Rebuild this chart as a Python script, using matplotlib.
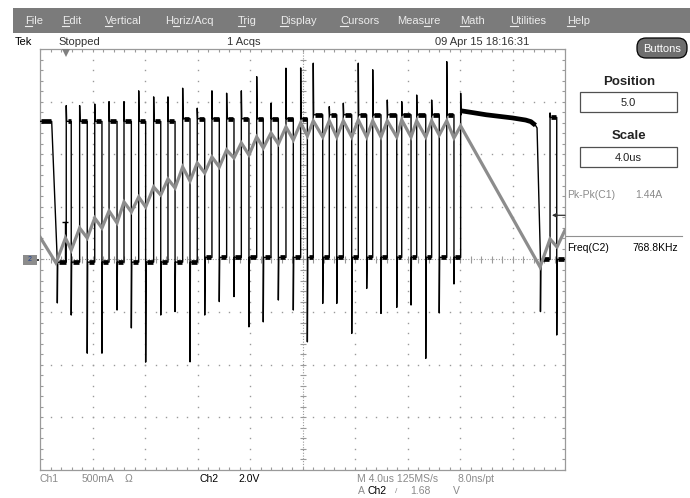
"""Tek scope capture: switch node (Ch2, black) and inductor current (Ch1, grey)."""

import matplotlib

matplotlib.use("Agg")
import matplotlib.pyplot as plt  # noqa: E402
import numpy as np  # noqa: E402
from matplotlib.font_manager import FontProperties  # noqa: E402
from matplotlib.patches import FancyBboxPatch, Rectangle  # noqa: E402

plt.rcParams["font.family"] = ["Liberation Sans", "DejaVu Sans"]

# --- scope settings ---
T_DIV = 4.0        # us/div
CH1_DIV = 0.5      # A/div  (grey)
CH2_DIV = 2.0      # V/div  (black)
TRIG_LEVEL = 1.68  # V on Ch2
TRIG_T = 2.0       # us from left edge

# --- Ch2 switch node (V, us) ---
ch2_start_v = 5.25
slow_fall_start = [0.89, 37.87]          # the two slow edges (fall index 0 and 28)
rise_t = [2.00, 3.02, 4.17, 5.26, 6.40, 7.52, 8.66, 9.75, 10.87, 11.98, 13.10, 14.22,
          15.34, 16.51, 17.60, 18.74, 19.86, 20.82, 22.04, 23.11, 24.25, 25.35, 26.46,
          27.56, 28.70, 29.84, 30.99, 32.05, 38.86]
rise_peak = [5.85, 5.85, 5.91, 6.00, 6.00, 6.41, 6.18, 6.18, 6.51, 5.75, 6.41, 6.32,
             6.41, 6.95, 5.94, 7.27, 7.28, 7.46, 5.81, 5.94, 7.46, 7.21, 6.06,
             6.00, 6.25, 6.06, 7.52, 6.32, 5.57]
high_v = [5.25, 5.25, 5.25, 5.25, 5.25, 5.25, 5.25, 5.25, 5.35, 5.35, 5.35, 5.35,
          5.35, 5.35, 5.35, 5.35, 5.35, 5.50, 5.50, 5.50, 5.50, 5.50, 5.50,
          5.50, 5.50, 5.50, 5.50, 5.50, 5.40]
fall_t = [1.32, 2.38, 3.60, 4.72, 5.87, 6.96, 8.05, 9.20, 10.29, 11.43, 12.55, 13.66,
          14.78, 15.92, 17.01, 18.16, 19.30, 20.37, 21.54, 22.61, 23.75, 24.89, 25.98,
          27.18, 28.27, 29.39, 30.42, 31.54, 38.13, 39.37]
fall_dip = [-1.65, -2.11, -3.56, -3.56, -1.92, -2.60, -3.90, -2.11, -1.98, -3.89, -2.11,
            -1.60, -1.41, -2.56, -2.37, -1.54, -1.92, -3.13, -1.67, -1.67, -2.81, -1.10,
            -2.05, -1.82, -1.73, -3.76, -2.03, -0.93, -1.98, -2.87]
low_v = [-0.10, -0.10, -0.10, -0.10, -0.10, -0.10, -0.10, -0.10, -0.10, -0.10, 0.08,
         0.08, 0.08, 0.08, 0.08, 0.08, 0.08, 0.08, 0.08, 0.08, 0.08, 0.08, 0.08, 0.08,
         0.08, 0.08, 0.08, 0.08, 0.00, 0.00]
plateau_t = [32.10, 33.0, 34.0, 35.0, 36.0, 37.0, 37.4, 37.75]
plateau_v = [5.65, 5.58, 5.50, 5.44, 5.38, 5.30, 5.24, 5.10]
glitch_t = [1.90]
glitch_v = [1.43]

# --- Ch1 inductor current (A, us) ---
i_t = [0.00, 1.22, 1.94, 2.38, 3.02, 3.60, 4.17, 4.72, 5.26, 5.87, 6.40, 6.96, 7.52,
       8.05, 8.66, 9.20, 9.75, 10.29, 10.87, 11.43, 11.98, 12.55, 13.10, 13.66, 14.22,
       14.78, 15.34, 15.92, 16.51, 17.01, 17.60, 18.16, 18.74, 19.30, 19.86, 20.37,
       20.82, 21.54, 22.04, 22.61, 23.11, 23.75, 24.25, 24.89, 25.35, 25.98, 26.46,
       27.18, 27.56, 28.27, 28.70, 29.39, 29.84, 30.42, 30.99, 31.54, 32.05, 38.10,
       38.86, 39.39, 40.00]
i_a = [0.214, -0.033, 0.204, 0.090, 0.299, 0.204, 0.394, 0.299, 0.461, 0.347, 0.547,
       0.452, 0.594, 0.499, 0.689, 0.613, 0.765, 0.680, 0.879, 0.746, 0.917, 0.822,
       0.974, 0.879, 1.041, 0.965, 1.107, 0.993, 1.164, 1.060, 1.202, 1.098, 1.260,
       1.136, 1.298, 1.174, 1.317, 1.164, 1.317, 1.164, 1.317, 1.164, 1.326, 1.164,
       1.317, 1.164, 1.317, 1.164, 1.326, 1.164, 1.317, 1.164, 1.317, 1.183, 1.317,
       1.155, 1.269, -0.071, 0.195, 0.119, 0.280]

# --- screen text ---
menu = [("File", 25, 0), ("Edit", 62, 0), ("Vertical", 105, 0), ("Horiz/Acq", 165, 1),
        ("Trig", 238, 0), ("Display", 280, 0), ("Cursors", 340, 0), ("Measure", 397, 4),
        ("Math", 460, 0), ("Utilities", 510, 0), ("Help", 567, 0)]

W, H = 690, 498
GL, GR, GT, GB = 40, 565, 49, 470
GRID = "#9a9a9a"
GREY_TRACE = "#8c8c8c"

fig = plt.figure(figsize=(W / 100, H / 100), dpi=100)
fig.patch.set_facecolor("white")
ax = fig.add_axes([GL / W, 1 - GB / H, (GR - GL) / W, (GB - GT) / H])
ax.set_xlim(0, 10 * T_DIV)
ax.set_ylim(-4, 4)
ax.set_xticks([])
ax.set_yticks([])
for sp in ax.spines.values():
    sp.set_color(GRID)
    sp.set_linewidth(0.9)

# graticule: dotted division lines, tick marks on the centre cross and on the border
dx, dy = 3 / 13.125, 3 / 52.6
minor_x = np.arange(0, 40.01, T_DIV / 5)
minor_y = np.arange(-4, 4.01, 0.2)
for k in range(1, 10):
    if k != 5:
        ax.plot(np.full(minor_y.size, k * T_DIV), minor_y, ls="none", marker="s", ms=1.0,
                mew=0, color=GRID, zorder=1)
for k in range(-3, 4):
    if k != 0:
        ax.plot(minor_x, np.full(minor_x.size, k), ls="none", marker="s", ms=1.0,
                mew=0, color=GRID, zorder=1)
ax.axhline(0, color=GRID, lw=0.8, ls=(0, (1, 1.5)), zorder=1)
ax.axvline(20, color=GRID, lw=0.8, ls=(0, (1, 1.5)), zorder=1)
ax.vlines(minor_x, -dy, dy, color=GRID, lw=0.8, zorder=1)
ax.hlines(minor_y, 20 - dx, 20 + dx, color=GRID, lw=0.8, zorder=1)
ax.vlines(minor_x, -4, -4 + dy, color=GRID, lw=0.8, zorder=1)
ax.vlines(minor_x, 4 - dy, 4, color=GRID, lw=0.8, zorder=1)
ax.hlines(minor_y, 0, dx, color=GRID, lw=0.8, zorder=1)
ax.hlines(minor_y, 40 - dx, 40, color=GRID, lw=0.8, zorder=1)

# build the Ch2 polyline from the edge lists
e = 0.03
bt, bv = [0.0, slow_fall_start[0], fall_t[0], fall_t[0], fall_t[0] + e], \
         [ch2_start_v, ch2_start_v, low_v[0], fall_dip[0], low_v[0]]
hi_segs = [(0.0, slow_fall_start[0], ch2_start_v)]
lo_segs = []
last = fall_t[0] + e
for i, tr in enumerate(rise_t):
    lo_segs.append((last, tr, low_v[i]))
    bt += [tr, tr, tr + e]
    bv += [low_v[i], rise_peak[i], high_v[i]]
    j = i + 1
    if j >= len(fall_t):
        break
    if j == 28:
        bt += plateau_t + [slow_fall_start[1], fall_t[j], fall_t[j], fall_t[j] + e]
        bv += plateau_v + [plateau_v[-1] - 0.1, low_v[j], fall_dip[j], low_v[j]]
    else:
        hi_segs.append((tr + e, fall_t[j], high_v[i]))
        bt += [fall_t[j], fall_t[j], fall_t[j] + e]
        bv += [high_v[i], fall_dip[j], low_v[j]]
    last = fall_t[j] + e
lo_segs.append((last, 40.0, low_v[-1]))
bt.append(40.0)
bv.append(low_v[-1])

bt = np.array(bt)
bv = np.array(bv) / CH2_DIV
ax.plot(bt, bv, color="black", lw=1.0, zorder=3)
# noisy flat parts of the trace show up as a thick band
for a, b, v in hi_segs + lo_segs:
    ax.plot([a + 0.08, b - 0.05], [v / CH2_DIV] * 2, color="black", lw=3.4,
            solid_capstyle="butt", zorder=3)
ax.plot(plateau_t, np.array(plateau_v) / CH2_DIV, color="black", lw=3.4,
        solid_capstyle="butt", zorder=3)
for gt, gv in zip(glitch_t, glitch_v):
    ax.plot([gt, gt], [low_v[0] / CH2_DIV, gv / CH2_DIV], color="black", lw=1.0, zorder=3)
    ax.plot([gt], [gv / CH2_DIV], marker="_", ms=5, mew=1.0, color="black", zorder=3)

# Ch1 current on top
ax.plot(i_t, np.array(i_a) / CH1_DIV, color=GREY_TRACE, lw=2.3, zorder=4,
        solid_joinstyle="miter")

# trigger position and level markers
ax.plot([TRIG_T], [3.93], marker="v", ms=6, color="#808080", mew=0, clip_on=False, zorder=5)
ax.annotate("", xy=(39.0, TRIG_LEVEL / CH2_DIV), xytext=(40.0, TRIG_LEVEL / CH2_DIV),
            arrowprops=dict(arrowstyle="-|>", color="#303030", lw=0.9,
                            mutation_scale=6, shrinkA=0, shrinkB=0),
            annotation_clip=False, zorder=5)

# --- chrome overlay in pixel coordinates ---
ov = fig.add_axes([0, 0, 1, 1], zorder=10)
ov.set_xlim(0, W)
ov.set_ylim(H, 0)
ov.axis("off")
ov.patch.set_visible(False)

ov.add_patch(Rectangle((13, 8), W - 13, 25, fc="#7b7b7b", ec="none"))
fp_menu = FontProperties(family=["Liberation Sans", "DejaVu Sans"], size=8)
fig.canvas.draw()
rend = fig.canvas.get_renderer()


def text_w(s):
    if not s:
        return 0.0
    return rend.get_text_width_height_descent(s, fp_menu, ismath=False)[0]


for label, x, k in menu:
    ov.text(x, 20.5, label, fontproperties=fp_menu, color="#ececec", ha="left", va="center")
    x0 = x + text_w(label[:k])
    x1 = x + text_w(label[:k + 1])
    ov.plot([x0, x1], [26.3, 26.3], color="#ececec", lw=0.8)

row = dict(fontsize=8, va="center", ha="left")
ov.text(15, 41.5, "Tek", color="black", **row)
ov.text(58, 41.5, "Stopped", color="#333333", **row)
ov.text(227, 41.5, "1 Acqs", color="#333333", **row)
ov.text(435, 41.5, "09 Apr 15 18:16:31", color="#333333", **row)

# channel ground marker
ov.add_patch(Rectangle((23, 254.5), 14, 10, fc="#8c8c8c", ec="none"))
ov.text(30, 259.5, "2", fontsize=5, color="#1f3f8f", ha="center", va="center")
ov.plot([37.5], [259.5], marker="s", ms=1.6, mew=0, color="#404040")

# right panel
ov.add_patch(FancyBboxPatch((637, 38), 50, 20, boxstyle="round,pad=0,rounding_size=9",
                            fc="#6e6e6e", ec="black", lw=0.9))
ov.text(662, 48.5, "Buttons", fontsize=8, color="white", ha="center", va="center")
ov.text(629, 82, "Position", fontsize=9.5, fontweight="bold", color="#222222",
        ha="center", va="center")
ov.add_patch(Rectangle((580, 92), 97, 20, fc="white", ec="#505050", lw=0.9))
ov.text(628.5, 102.5, "5.0", fontsize=8, color="#222222", ha="center", va="center")
ov.text(629, 136, "Scale", fontsize=9.5, fontweight="bold", color="#222222",
        ha="center", va="center")
ov.add_patch(Rectangle((580, 147), 97, 20, fc="white", ec="#505050", lw=0.9))
ov.text(628.5, 157.5, "4.0us", fontsize=8, color="#222222", ha="center", va="center")
ov.text(567, 195, "Pk-Pk(C1)", fontsize=7.5, color="#8a8a8a", ha="left", va="center")
ov.text(635, 195, "1.44A", fontsize=7.5, color="#8a8a8a", ha="left", va="center")
ov.plot([566, 682], [236, 236], color="#909090", lw=0.8)
ov.text(567, 248, "Freq(C2)", fontsize=7.5, color="black", ha="left", va="center")
ov.text(632, 248, "768.8KHz", fontsize=7.5, color="black", ha="left", va="center")

# bottom status lines
st = dict(fontsize=7.5, va="center", ha="left")
ov.text(40, 479, "Ch1", color="#8a8a8a", **st)
ov.text(82, 479, "500mA", color="#8a8a8a", **st)
ov.text(125, 479, "Ω", color="#8a8a8a", **st)
ov.text(199, 479, "Ch2", color="black", **st)
ov.text(238, 479, "2.0V", color="black", **st)
ov.text(357, 479, "M 4.0us 125MS/s", color="#8a8a8a", **st)
ov.text(458, 479, "8.0ns/pt", color="#8a8a8a", **st)
ov.text(358, 491, "A", color="#8a8a8a", **st)
ov.text(368, 491, "Ch2", color="black", **st)
ov.text(395, 491, "/", color="#8a8a8a", fontsize=6, va="center", ha="left")
ov.text(410, 491, "1.68", color="#8a8a8a", **st)
ov.text(453, 491, "V", color="#8a8a8a", **st)

fig.savefig("out.png", dpi=100)
